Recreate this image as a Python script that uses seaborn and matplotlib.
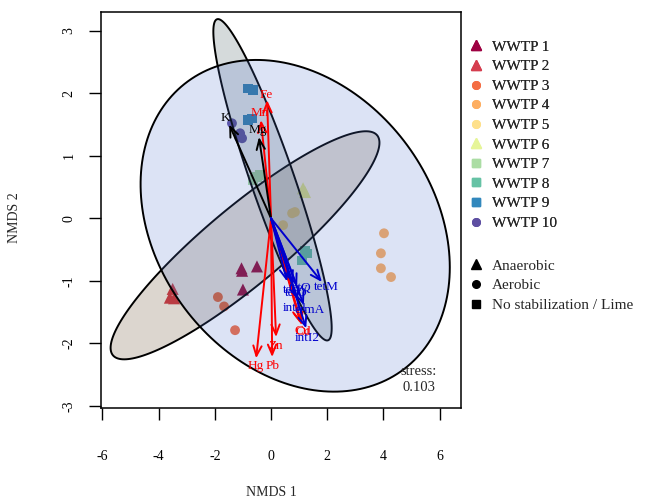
import numpy as np
import pandas as pd
import matplotlib
matplotlib.use("Agg")
import matplotlib.pyplot as plt
import seaborn as sns
from matplotlib.lines import Line2D
from matplotlib.patches import Polygon

sns.set_theme(style="white")
plt.rcParams["font.family"] = ["Liberation Serif", "DejaVu Serif"]

# ---------------- data ----------------
plants = ["WWTP 1", "WWTP 2", "WWTP 3", "WWTP 4", "WWTP 5",
          "WWTP 6", "WWTP 7", "WWTP 8", "WWTP 9", "WWTP 10"]
plant_colors = ["#9E0142", "#D53E4F", "#F46D43", "#FDAE61", "#FEE08B",
                "#E6F598", "#ABDDA4", "#66C2A5", "#3288BD", "#5E4FA2"]
plant_type = ["Anaerobic", "Anaerobic", "Aerobic", "Aerobic", "Aerobic",
              "Anaerobic", "No stabilization / Lime", "No stabilization / Lime",
              "No stabilization / Lime", "Aerobic"]
types = ["Anaerobic", "Aerobic", "No stabilization / Lime"]
type_markers = ["^", "o", "s"]

sample_plant = (["WWTP 1"] * 4 + ["WWTP 2"] * 3 + ["WWTP 3"] * 3 + ["WWTP 4"] * 4 +
                ["WWTP 5"] * 3 + ["WWTP 6"] * 2 + ["WWTP 7"] * 3 + ["WWTP 8"] * 3 +
                ["WWTP 9"] * 4 + ["WWTP 10"] * 4)
nmds1 = [-1.05, -1.03, -0.50, -1.00,
         -3.50, -3.45, -3.60,
         -1.89, -1.67, -1.28,
         4.02, 3.91, 3.91, 4.27,
         0.75, 0.85, 0.43,
         1.14, 1.21,
         -0.50, -0.39, -0.64,
         1.21, 1.10, 1.28,
         -0.82, -0.64, -0.82, -0.68,
         -1.39, -1.10, -1.03, -1.14]
nmds2 = [-0.80, -0.84, -0.77, -1.14,
         -1.13, -1.28, -1.27,
         -1.26, -1.41, -1.79,
         -0.24, -0.56, -0.80, -0.94,
         0.08, 0.10, -0.11,
         0.48, 0.42,
         0.66, 0.69, 0.61,
         -0.51, -0.67, -0.56,
         2.08, 2.05, 1.57, 1.60,
         1.52, 1.36, 1.28, 1.30]

# group ellipses: centre and two semi-axis vectors (NMDS units)
ell_groups = ["Anaerobic", "No stabilization / Lime", "Aerobic"]
ell_center = [(-0.925, -0.432), (0.053, 0.616), (0.86, -0.12)]
ell_axis1 = [(4.70, 1.76), (1.975, -2.568), (3.88, -2.29)]
ell_axis2 = [(0.89, -0.48), (-0.730, -0.114), (-3.90, -1.34)]
ell_fill = ["#50320F", "#2D464B", "#5073CD"]

# fitted environmental vectors
vec_names = ["Fe", "Mn", "Mg", "K", "Hg", "Pb", "Zn", "Cd", "Cu",
             "tetM", "tetW", "tetQ", "tetO", "intI1", "ermA", "intI2"]
vec_x = [-0.14, -0.36, -0.43, -1.49, -0.53, 0.04, 0.18, 1.10, 1.05,
         1.81, 0.57, 0.78, 0.93, 0.96, 1.17, 1.25]
vec_y = [1.89, 1.57, 1.30, 1.50, -2.24, -2.22, -1.90, -1.71, -1.68,
         -1.02, -1.01, -1.04, -1.09, -1.31, -1.39, -1.76]
vec_group = ["metal", "metal", "macro", "macro", "metal", "metal", "metal", "metal", "metal",
             "arg", "arg", "arg", "arg", "arg", "arg", "arg"]
lab_x = [-0.18, -0.39, -0.46, -1.64, -0.53, 0.04, 0.18, 1.14, 1.10,
         1.96, 0.89, 1.03, 0.90, 0.85, 1.39, 1.28]
lab_y = [1.97, 1.68, 1.41, 1.60, -2.37, -2.37, -2.05, -1.82, -1.80,
         -1.10, -1.15, -1.12, -1.20, -1.44, -1.47, -1.92]
group_colors = {"metal": "#FF0000", "macro": "#000000", "arg": "#0000CD"}

stress = 0.103

# ---------------- figure ----------------
fig = plt.figure(figsize=(6.46, 4.99), dpi=100)
ax = fig.add_axes([101 / 646, 1 - 407.7 / 499, (461 - 101) / 646, (407.7 - 12) / 499])

df = pd.DataFrame({"plant": sample_plant, "x": nmds1, "y": nmds2})
df["type"] = df["plant"].map(dict(zip(plants, plant_type)))
pal = dict(zip(plants, plant_colors))
sizes = {"Anaerobic": 75, "Aerobic": 50, "No stabilization / Lime": 45}
for t, m in zip(types, type_markers):
    sub = df[df["type"] == t]
    sns.scatterplot(data=sub, x="x", y="y", hue="plant", palette=pal, marker=m,
                    s=sizes[t], linewidth=0, legend=False, ax=ax, zorder=1)

tt = np.linspace(0, 2 * np.pi, 200)
for c, a1, a2, fc in zip(ell_center, ell_axis1, ell_axis2, ell_fill):
    px = c[0] + a1[0] * np.cos(tt) + a2[0] * np.sin(tt)
    py = c[1] + a1[1] * np.cos(tt) + a2[1] * np.sin(tt)
    ax.add_patch(Polygon(np.column_stack([px, py]), closed=True,
                         facecolor=matplotlib.colors.to_rgba(fc, 0.2),
                         edgecolor="black", lw=1.4, zorder=2))

for n, vx, vy, g, lx, ly in zip(vec_names, vec_x, vec_y, vec_group, lab_x, lab_y):
    col = group_colors[g]
    ax.annotate("", xy=(vx, vy), xytext=(0, 0),
                arrowprops=dict(arrowstyle="->,head_length=0.6,head_width=0.25",
                                color=col, lw=1.4, shrinkA=0, shrinkB=0),
                zorder=3)
    ax.text(lx, ly, n, color=col, fontsize=9.5, ha="center", va="center", zorder=4)

ax.text(5.25, -2.58, f"stress:\n{stress}", fontsize=10.5, ha="center", va="center",
        linespacing=1.3)

ax.set_xlim(-6.05, 6.76)
ax.set_ylim(-3.03, 3.30)
ax.set_xticks([-6, -4, -2, 0, 2, 4, 6])
ax.set_yticks([-3, -2, -1, 0, 1, 2, 3])
ax.set_xticklabels(["-6", "-4", "-2", "0", "2", "4", "6"])
ax.set_yticklabels(["-3", "-2", "-1", "0", "1", "2", "3"], rotation=90, va="center")
ax.tick_params(axis="both", direction="out", length=8.5, width=1, color="black",
               labelsize=10, labelcolor="black")
ax.tick_params(axis="x", pad=22, bottom=True)
ax.tick_params(axis="y", pad=10, left=True)
for sp in ax.spines.values():
    sp.set_color("black")
    sp.set_linewidth(1.1)
ax.set_xlabel("NMDS 1", fontsize=10)
ax.set_ylabel("NMDS 2", fontsize=10)
ax.xaxis.set_label_coords((271 - 101) / 360, -(486 - 407.7) / 395.7)
ax.yaxis.set_label_coords(-(101 - 21) / 360, (407.7 - 218) / 395.7)

plant_handles = [Line2D([], [], marker=m, color=c, linestyle="",
                        markersize=7 if m == "^" else 5.5)
                 for m, c in zip([type_markers[types.index(t)] for t in plant_type],
                                 plant_colors)]
type_handles = [Line2D([], [], marker=m, color="black", linestyle="",
                       markersize=7 if m == "^" else 5.5) for m in type_markers]
leg_kw = dict(loc="upper left", frameon=False, fontsize=11, handlelength=1.0,
              handletextpad=0.55, labelspacing=0.385, borderaxespad=0, borderpad=0.2)
leg1 = fig.legend(plant_handles, plants, bbox_to_anchor=(465.3 / 646, 1 - 37 / 499), **leg_kw)
fig.add_artist(leg1)
fig.legend(type_handles, types, bbox_to_anchor=(465.3 / 646, 1 - 256 / 499), **leg_kw)

fig.savefig("out.png", dpi=100)
